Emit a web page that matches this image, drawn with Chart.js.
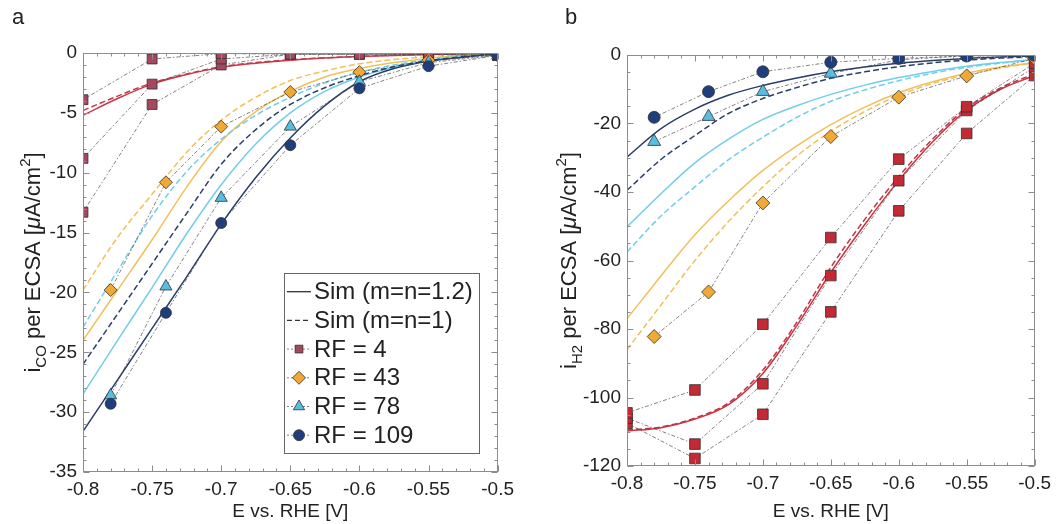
<!DOCTYPE html>
<html>
<head>
<meta charset="utf-8">
<script src="https://cdn.jsdelivr.net/npm/chart.js@4.4.0/dist/chart.umd.min.js"></script>
<style>
  html, body { margin: 0; padding: 0; background: #fff; }
  #wrap { position: relative; width: 1057px; height: 524px; overflow: hidden; }
  .panel { position: absolute; top: 0; height: 524px; }
  #panel-a { left: 0; width: 520px; }
  #panel-b { left: 540px; width: 517px; }
  .tag { position: absolute; top: 4px; font: 22px "Liberation Sans", Arial, sans-serif; color: #222; }
</style>
</head>
<body>
<div id="wrap">
  <div class="panel" id="panel-a"><canvas id="chart-co" width="520" height="524"></canvas></div>
  <div class="panel" id="panel-b"><canvas id="chart-h2" width="517" height="524"></canvas></div>
  <div class="tag" style="left:12px">a</div>
  <div class="tag" style="left:565px">b</div>
</div>
<script>
// ---- data ----
const xTicks = [-0.8, -0.75, -0.7, -0.65, -0.6, -0.55, -0.5];
const coTicks = [0, -5, -10, -15, -20, -25, -30, -35];
const h2Ticks = [0, -20, -40, -60, -80, -100, -120];

const xSim = [-0.8, -0.775, -0.75, -0.725, -0.7, -0.675, -0.65, -0.625, -0.6, -0.575, -0.55, -0.525, -0.5];
const xExp = [-0.78, -0.74, -0.7, -0.65, -0.6, -0.55, -0.5];
const xExpRF4 = [-0.8, -0.75, -0.7, -0.65, -0.6, -0.55, -0.5];

// panel a : i_CO
const coRF4a = [-3.9, -0.5, -0.05, -0.1, -0.1, -0.1, -0.2];
const coRF4b = [-8.8, -2.6, -0.5, -0.1, -0.1, -0.1, -0.2];
const coRF4c = [-13.3, -4.3, -1.0, -0.1, -0.1, -0.1, -0.2];
const coRF43 = [-19.8, -10.8, -6.15, -3.26, -1.6, -0.6, -0.2];
const coRF78 = [-28.6, -19.5, -12.1, -6.15, -2.4, -0.8, -0.2];
const coRF109 = [-29.3, -21.7, -14.2, -7.7, -2.95, -1.1, -0.2];

const coSimRF4 = [-5.2, -3.8, -2.6, -1.8, -1.2, -0.85, -0.6, -0.42, -0.3, -0.2, -0.12, -0.06, -0.02];
const coSimRF4d = [-4.8, -3.6, -2.5, -1.75, -1.15, -0.8, -0.57, -0.4, -0.28, -0.18, -0.11, -0.05, -0.02];
const coSimRF43 = [-24.0, -19.8, -15.6, -11.2, -7.4, -4.9, -3.2, -2.0, -1.3, -0.8, -0.45, -0.2, -0.05];
const coSimRF43d = [-19.8, -15.4, -11.8, -8.3, -5.6, -3.7, -2.3, -1.5, -0.9, -0.55, -0.3, -0.15, -0.05];
const coSimRF78 = [-28.5, -24.0, -19.6, -15.1, -11.0, -7.6, -5.0, -3.2, -2.0, -1.2, -0.65, -0.3, -0.05];
const coSimRF78d = [-22.9, -18.2, -13.6, -9.9, -7.2, -5.2, -3.7, -2.5, -1.6, -1.0, -0.55, -0.25, -0.05];
const coSimRF109 = [-31.6, -27.3, -23.0, -18.7, -14.3, -10.4, -7.1, -4.4, -2.4, -1.3, -0.7, -0.35, -0.05];
const coSimRF109d = [-26.0, -21.8, -17.6, -13.4, -9.3, -6.4, -4.3, -2.9, -1.9, -1.15, -0.65, -0.3, -0.05];

// panel b : i_H2
const h2RF4a = [-104.5, -97.8, -78.6, -53.3, -30.4, -15.1, -2.4];
const h2RF4b = [-106.0, -113.6, -96.0, -64.4, -36.7, -16.2, -3.5];
const h2RF4c = [-107.5, -117.8, -104.9, -75.0, -45.5, -22.9, -6.0];
const h2RF43 = [-82.2, -69.2, -43.2, -23.8, -12.3, -6.1, -1.0];
const h2RF78 = [-25.3, -18.0, -10.7, -5.4, -1.4, -0.2, -0.3];
const h2RF109 = [-18.2, -10.7, -4.9, -2.1, -1.0, -0.3, -0.1];

const h2SimRF4 = [-109.8, -108.8, -106.3, -102.0, -93.0, -79.0, -63.5, -49.5, -36.6, -25.3, -16.1, -10.0, -6.0];
const h2SimRF4d = [-109.5, -108.6, -106.0, -101.5, -92.0, -78.0, -62.0, -48.0, -35.5, -24.5, -15.5, -9.6, -5.5];
const h2SimRF43 = [-77.0, -64.5, -52.5, -42.5, -33.7, -26.5, -20.3, -15.2, -11.0, -7.8, -5.3, -3.5, -2.2];
const h2SimRF43d = [-86.0, -73.0, -60.0, -48.5, -38.5, -29.5, -22.3, -16.5, -11.8, -8.3, -5.8, -3.8, -2.3];
const h2SimRF78 = [-50.2, -40.5, -31.5, -24.5, -18.8, -14.8, -11.5, -8.8, -6.6, -4.8, -3.3, -2.2, -1.3];
const h2SimRF78d = [-57.5, -47.0, -38.5, -30.5, -24.0, -18.2, -13.5, -10.2, -7.5, -5.3, -3.6, -2.4, -1.4];
const h2SimRF109 = [-29.8, -21.5, -15.8, -11.7, -8.9, -6.7, -4.9, -3.5, -2.4, -1.6, -1.0, -0.6, -0.3];
const h2SimRF109d = [-39.5, -30.5, -23.5, -17.0, -12.7, -9.5, -6.8, -4.9, -3.4, -2.3, -1.5, -0.9, -0.5];

// ---- colours ----
const FONT = '"Liberation Sans", Arial, Helvetica, sans-serif';
const rf4MarkA = '#A5475E';
const rf4LineA = '#C8384C';
const rf4MarkB = '#C42A33';
const rf4LineB = '#C83340';
const yellowLine = '#F1C05A';
const diamondFill = '#F0A935';
const cyanLine = '#72CDE8';
const triFill = '#56BEE3';
const navyLine = '#2A3F68';
const circleFill = '#1E3E7C';
const expLine = 'rgba(70,70,70,0.75)';

Chart.defaults.font.family = FONT;
Chart.defaults.color = '#222';

function pts(xs, ys) {
    return xs.map((x, i) => ({ x: x, y: ys[i] }));
}

function expSet(label, xs, ys, style, fill, radius) {
    return {
        label: label,
        data: pts(xs, ys),
        showLine: true,
        borderColor: expLine,
        borderWidth: 0.9,
        borderDash: [4, 2, 1.5, 2],
        tension: 0,
        pointStyle: style,
        pointRadius: radius,
        pointBackgroundColor: fill,
        pointBorderColor: '#33302e',
        pointBorderWidth: 0.8,
        fill: false
    };
}

function simSet(label, ys, color, dashed) {
    return {
        label: label,
        data: pts(xSim, ys),
        borderColor: color,
        borderWidth: 1.5,
        borderDash: dashed ? [6, 3] : [],
        pointRadius: 0,
        cubicInterpolationMode: 'monotone',
        fill: false
    };
}

// box round the plot with inward major and minor ticks
function frameTicks(xMinor, yMinor, yMajor) {
    return {
        id: 'frameTicks',
        afterDatasetsDraw(chart) {
            const { ctx, chartArea: a } = chart;
            const sx = chart.scales.x, sy = chart.scales.y;
            const L = Math.round(a.left) + 0.5, R = Math.round(a.right) - 0.5;
            const T = Math.round(a.top) + 0.5, B = Math.round(a.bottom) - 0.5;
            ctx.save();
            ctx.strokeStyle = '#8c8c8c';
            ctx.lineWidth = 1;
            ctx.setLineDash([]);
            ctx.strokeRect(L, T, R - L, B - T);
            ctx.beginPath();
            const nx = Math.round((sx.max - sx.min) / xMinor);
            for (let i = 0; i <= nx; i++) {
                const v = sx.min + i * xMinor;
                const px = Math.round(sx.getPixelForValue(v)) + 0.5;
                const len = xTicks.some(t => Math.abs(t - v) < 1e-6) ? 6 : 3;
                ctx.moveTo(px, B); ctx.lineTo(px, B - len);
                ctx.moveTo(px, T); ctx.lineTo(px, T + len);
            }
            const ny = Math.round((sy.max - sy.min) / yMinor);
            for (let i = 0; i <= ny; i++) {
                const v = sy.min + i * yMinor;
                const py = Math.round(sy.getPixelForValue(v)) + 0.5;
                const len = yMajor.some(t => Math.abs(t - v) < 1e-6) ? 6 : 3;
                ctx.moveTo(L, py); ctx.lineTo(L + len, py);
                ctx.moveTo(R, py); ctx.lineTo(R - len, py);
            }
            ctx.stroke();
            ctx.restore();
        }
    };
}

// rotated y label with sub / superscripts
function yTitle(cx0, size, parts) {
    return {
        id: 'yTitle',
        afterDraw(chart) {
            const ctx = chart.ctx;
            const a = chart.chartArea;
            const fontOf = p => (p.italic ? 'italic ' : '') + (p.size || size) + 'px ' + FONT;
            ctx.save();
            ctx.translate(cx0, (a.top + a.bottom) / 2);
            ctx.rotate(-Math.PI / 2);
            let total = 0;
            parts.forEach(p => { ctx.font = fontOf(p); total += ctx.measureText(p.text).width; });
            let cx = -total / 2;
            ctx.fillStyle = '#222';
            ctx.textBaseline = 'alphabetic';
            ctx.textAlign = 'left';
            parts.forEach(p => {
                ctx.font = fontOf(p);
                ctx.fillText(p.text, cx, size * 0.35 + (p.shift || 0));
                cx += ctx.measureText(p.text).width;
            });
            ctx.restore();
        }
    };
}

// legend box inside the plot
function boxLegend(spec, items) {
    return {
        id: 'boxLegend',
        afterDraw(chart) {
            const { ctx, chartArea: a } = chart;
            const left = Math.round(a.right - spec.right - spec.width);
            const top = Math.round(a.bottom - spec.bottom - spec.height);
            ctx.save();
            ctx.fillStyle = '#fff';
            ctx.fillRect(left, top, spec.width, spec.height);
            ctx.strokeStyle = '#666';
            ctx.lineWidth = 1;
            ctx.strokeRect(left + 0.5, top + 0.5, spec.width, spec.height);
            items.forEach((it, i) => {
                const y = top + spec.first + i * spec.step;
                ctx.beginPath();
                ctx.setLineDash(it.dash);
                ctx.strokeStyle = it.lineColor;
                ctx.lineWidth = it.lineWidth;
                ctx.moveTo(left + 3, y);
                ctx.lineTo(left + 27, y);
                ctx.stroke();
                ctx.setLineDash([]);
                if (it.pointStyle) {
                    ctx.fillStyle = it.fill;
                    ctx.strokeStyle = '#33302e';
                    ctx.lineWidth = 0.8;
                    Chart.helpers.drawPoint(ctx, { pointStyle: it.pointStyle, radius: it.radius, rotation: 0, borderWidth: 0.8 }, left + 15, y);
                }
                ctx.fillStyle = '#222';
                ctx.font = spec.fontSize + 'px ' + FONT;
                ctx.textBaseline = 'middle';
                ctx.textAlign = 'left';
                ctx.fillText(it.text, left + 30, y + 1);
            });
            ctx.restore();
        }
    };
}

function baseOptions(yMin, yMax, yTickVals, yWidth, xHeight, pad) {
    return {
        responsive: false,
        animation: false,
        layout: { padding: pad },
        plugins: {
            legend: { display: false },
            tooltip: { enabled: false }
        },
        scales: {
            x: {
                type: 'linear',
                min: -0.8,
                max: -0.5,
                afterBuildTicks: s => { s.ticks = xTicks.map(v => ({ value: v })); },
                afterFit: s => { s.height = xHeight; },
                grid: { display: false, drawTicks: false },
                border: { display: false },
                ticks: {
                    callback: v => String(+v.toFixed(2)),
                    font: { size: 19 },
                    color: '#222',
                    padding: 6,
                    maxRotation: 0,
                    autoSkip: false
                },
                title: {
                    display: true,
                    text: 'E vs. RHE [V]',
                    font: { size: 19 },
                    color: '#222',
                    padding: { top: 0, bottom: 1 }
                }
            },
            y: {
                type: 'linear',
                min: yMin,
                max: yMax,
                afterBuildTicks: s => { s.ticks = yTickVals.map(v => ({ value: v })); },
                afterFit: s => { s.width = yWidth; },
                grid: { display: false, drawTicks: false },
                border: { display: false },
                ticks: {
                    callback: v => String(v),
                    font: { size: 19 },
                    color: '#222',
                    padding: 6
                }
            }
        }
    };
}

document.addEventListener('DOMContentLoaded', function () {
    // ---- panel a ----
    const titleA = [
        { text: 'i' }, { text: 'CO', size: 15, shift: 6 }, { text: ' per ECSA [' },
        { text: 'μ', italic: true }, { text: 'A/cm' }, { text: '2', size: 15, shift: -10 }, { text: ']' }
    ];
    const legendItems = [
        { text: 'Sim (m=n=1.2)', lineColor: '#333', lineWidth: 1.3, dash: [] },
        { text: 'Sim (m=n=1)', lineColor: '#333', lineWidth: 1.3, dash: [5, 3] },
        { text: 'RF = 4', lineColor: expLine, lineWidth: 0.9, dash: [2, 2], pointStyle: 'rect', radius: 5.5, fill: rf4MarkA },
        { text: 'RF = 43', lineColor: expLine, lineWidth: 0.9, dash: [2, 2], pointStyle: 'rectRot', radius: 6.5, fill: diamondFill },
        { text: 'RF = 78', lineColor: expLine, lineWidth: 0.9, dash: [2, 2], pointStyle: 'triangle', radius: 6.5, fill: triFill },
        { text: 'RF = 109', lineColor: expLine, lineWidth: 0.9, dash: [2, 2], pointStyle: 'circle', radius: 5.5, fill: circleFill }
    ];

    new Chart(document.getElementById('chart-co').getContext('2d'), {
        type: 'line',
        data: {
            datasets: [
                expSet('RF = 109', xExp, coRF109, 'circle', circleFill, 5.5),
                expSet('RF = 78', xExp, coRF78, 'triangle', triFill, 7),
                expSet('RF = 43', xExp, coRF43, 'rectRot', diamondFill, 6.5),
                expSet('RF = 4', xExpRF4, coRF4a, 'rect', rf4MarkA, 7),
                expSet('RF = 4', xExpRF4, coRF4b, 'rect', rf4MarkA, 7),
                expSet('RF = 4', xExpRF4, coRF4c, 'rect', rf4MarkA, 7),
                simSet('Sim 109', coSimRF109, navyLine, false),
                simSet('Sim 109 d', coSimRF109d, navyLine, true),
                simSet('Sim 78', coSimRF78, cyanLine, false),
                simSet('Sim 78 d', coSimRF78d, cyanLine, true),
                simSet('Sim 43', coSimRF43, yellowLine, false),
                simSet('Sim 43 d', coSimRF43d, yellowLine, true),
                simSet('Sim 4', coSimRF4, rf4LineA, false),
                simSet('Sim 4 d', coSimRF4d, rf4LineA, true)
            ]
        },
        options: baseOptions(-35, 0, coTicks, 83, 52, { left: 0, top: 53, right: 18, bottom: 0 }),
        plugins: [
            frameTicks(0.01, 1, coTicks),
            yTitle(32, 22, titleA),
            boxLegend({ right: 19, bottom: 19, width: 195, height: 180, first: 18.7, step: 28.7, fontSize: 24 }, legendItems)
        ]
    });

    // ---- panel b ----
    const titleB = [
        { text: 'i' }, { text: 'H2', size: 15, shift: 6 }, { text: ' per ECSA [' },
        { text: 'μ', italic: true }, { text: 'A/cm' }, { text: '2', size: 15, shift: -10 }, { text: ']' }
    ];

    new Chart(document.getElementById('chart-h2').getContext('2d'), {
        type: 'line',
        data: {
            datasets: [
                expSet('RF = 109', xExp, h2RF109, 'circle', circleFill, 6),
                expSet('RF = 78', xExp, h2RF78, 'triangle', triFill, 7.5),
                expSet('RF = 43', xExp, h2RF43, 'rectRot', diamondFill, 7),
                expSet('RF = 4', xExpRF4, h2RF4a, 'rect', rf4MarkB, 7.5),
                expSet('RF = 4', xExpRF4, h2RF4b, 'rect', rf4MarkB, 7.5),
                expSet('RF = 4', xExpRF4, h2RF4c, 'rect', rf4MarkB, 7.5),
                simSet('Sim 109', h2SimRF109, navyLine, false),
                simSet('Sim 109 d', h2SimRF109d, navyLine, true),
                simSet('Sim 78', h2SimRF78, cyanLine, false),
                simSet('Sim 78 d', h2SimRF78d, cyanLine, true),
                simSet('Sim 43', h2SimRF43, yellowLine, false),
                simSet('Sim 43 d', h2SimRF43d, yellowLine, true),
                simSet('Sim 4', h2SimRF4, rf4LineB, false),
                simSet('Sim 4 d', h2SimRF4d, rf4LineB, true)
            ]
        },
        options: baseOptions(-120, 0, h2Ticks, 87, 58, { left: 0, top: 55, right: 18, bottom: 0 }),
        plugins: [
            frameTicks(0.01, 5, h2Ticks),
            yTitle(28, 22, titleB)
        ]
    });
});
</script>
</body>
</html>
